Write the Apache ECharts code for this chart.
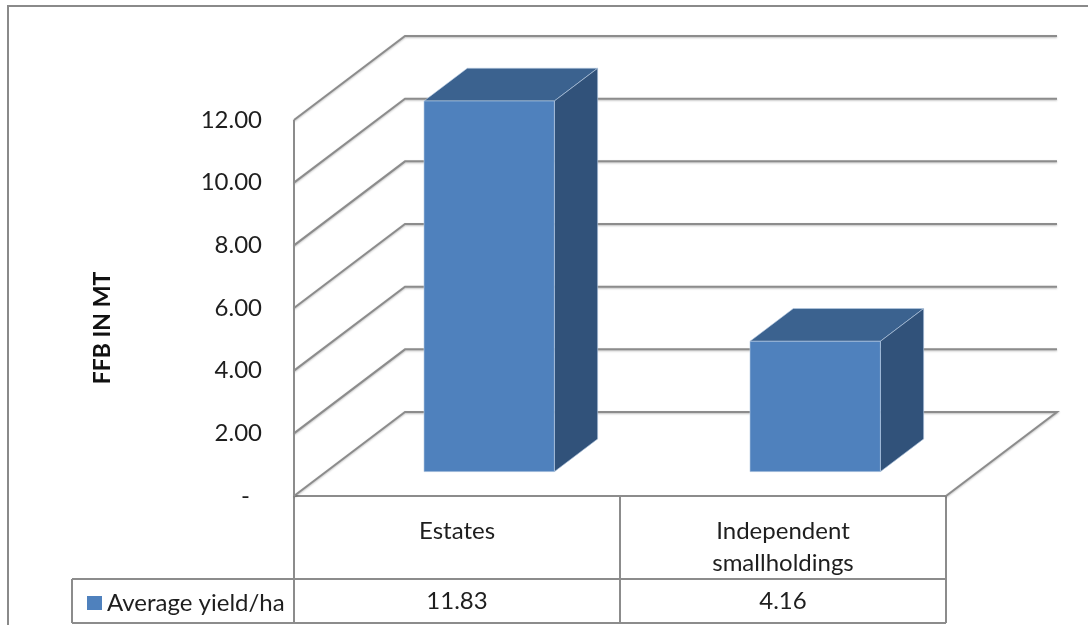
<!DOCTYPE html>
<html>
<head>
<meta charset="utf-8">
<title>Average yield/ha</title>
<script src="https://cdn.jsdelivr.net/npm/echarts@6/dist/echarts.min.js"></script>
<style>
  html, body { margin: 0; padding: 0; background: #fff; }
  #chart { width: 1088px; height: 625px; }
</style>
</head>
<body>
<div id="chart"></div>
<script>
const categories = ['Estates', 'Independent\nsmallholdings']
const yieldValues = [11.83, 4.16]
const yTicks = [0, 2, 4, 6, 8, 10, 12]
const seriesName = 'Average yield/ha'

const FONT = 'Lato, "Open Sans", sans-serif'
const LINE = '#8c8c8c'
const TEXT = '#1e1e1e'
// depth of the 3d walls and floor, px
const DEPTH_X = 111
const DEPTH_Y = -84
// bars sit between these fractions of the depth
const BAR_FRONT = 0.29
const BAR_BACK = 0.68
const BAR_WIDTH = 0.4

const chart = echarts.init(document.getElementById('chart'))

// back wall, left wall and floor lines for every y tick
function wallItem(params, api) {
  const cs = params.coordSys
  const v = api.value(1)
  const y = api.coord([0, v])[1]
  const x0 = cs.x
  const x1 = cs.x + cs.width
  const style = { stroke: LINE, lineWidth: 2, fill: null, shadowBlur: 2, shadowColor: 'rgba(0,0,0,0.25)', shadowOffsetY: 1 }
  const pts = [[x0, y], [x0 + DEPTH_X, y + DEPTH_Y], [x1 + DEPTH_X, y + DEPTH_Y]]
  if (v === 0) pts.push([x1, y])
  const children = [{ type: 'polyline', shape: { points: pts }, style: style }]
  if (v === yTicks[yTicks.length - 1]) {
    children.push({ type: 'line', shape: { x1: x0, y1: y, x2: x0, y2: cs.y + cs.height }, style: { stroke: LINE, lineWidth: 2 } })
  }
  return { type: 'group', children: children }
}

function barItem(params, api) {
  const idx = api.value(0)
  const v = api.value(1)
  const top = api.coord([idx, v])
  const base = api.coord([idx, 0])
  const band = api.size([1, 0])[0]
  const w = band * BAR_WIDTH
  const fx = DEPTH_X * BAR_FRONT
  const fy = DEPTH_Y * BAR_FRONT
  const dx = DEPTH_X * (BAR_BACK - BAR_FRONT)
  const dy = DEPTH_Y * (BAR_BACK - BAR_FRONT)
  const l = top[0] - w / 2 + fx
  const r = l + w
  const t = top[1] + fy
  const b = base[1] + fy
  const edge = { stroke: 'rgba(185,205,229,0.6)', lineWidth: 1 }
  return {
    type: 'group',
    children: [
      { type: 'polygon', shape: { points: [[l, t], [l + dx, t + dy], [r + dx, t + dy], [r, t]] },
        style: Object.assign({ fill: '#3b628f' }, edge) },
      { type: 'polygon', shape: { points: [[r, t], [r + dx, t + dy], [r + dx, b + dy], [r, b]] },
        style: Object.assign({ fill: '#31527a' }, edge) },
      { type: 'rect', shape: { x: l, y: t, width: w, height: b - t },
        style: Object.assign({ fill: '#4f81bd' }, edge) },
      // value cell of the data table
      { type: 'text', x: base[0], y: base[1] + 105,
        style: { text: v.toFixed(2), fill: TEXT, font: '24px ' + FONT, align: 'center', verticalAlign: 'middle' } }
    ]
  }
}

// data table outline
const tableLines = [
  [294, 496, 946, 496],
  [72, 579, 946, 579],
  [72, 623, 946, 623],
  [72, 579, 72, 623],
  [294, 496, 294, 623],
  [620, 496, 620, 623],
  [946, 496, 946, 623]
]

chart.setOption({
  animation: false,
  grid: { left: 294, right: 142, top: 120, bottom: 129 },
  xAxis: {
    type: 'category',
    data: categories,
    axisLine: { show: false },
    axisTick: { show: false },
    axisLabel: { margin: 19, fontSize: 24, fontFamily: FONT, color: TEXT, lineHeight: 32 }
  },
  yAxis: {
    type: 'value',
    min: 0,
    max: 12,
    interval: 2,
    splitLine: { show: false },
    axisLine: { show: false },
    axisTick: { show: false },
    axisLabel: {
      margin: 32, fontSize: 24, fontFamily: FONT, color: TEXT,
      formatter: v => (v === 0 ? '{dash|-}' : v.toFixed(2)),
      rich: { dash: { fontSize: 24, fontFamily: FONT, color: TEXT, padding: [0, 12, 0, 0] } }
    }
  },
  legend: {
    data: [{ name: seriesName, icon: 'rect' }],
    left: 82,
    top: 586,
    itemWidth: 15,
    itemHeight: 14,
    itemGap: 8,
    textStyle: { fontSize: 24, fontFamily: FONT, color: TEXT }
  },
  graphic: [
    { type: 'rect', shape: { x: 8, y: 6, width: 1200, height: 700 }, style: { fill: null, stroke: '#8a8a8a', lineWidth: 2 } },
    { type: 'text', x: 103, y: 328, rotation: Math.PI / 2,
      style: { text: 'FFB IN MT', font: 'bold 23px ' + FONT, fill: '#111', align: 'center', verticalAlign: 'middle' } }
  ].concat(tableLines.map(([x1, y1, x2, y2]) => ({
    type: 'line', shape: { x1, y1, x2, y2 }, style: { stroke: LINE, lineWidth: 2 }
  }))),
  series: [
    {
      type: 'custom',
      name: 'walls',
      z: 1,
      clip: false,
      silent: true,
      renderItem: wallItem,
      data: yTicks.map(v => [0, v])
    },
    {
      type: 'custom',
      name: seriesName,
      z: 2,
      clip: false,
      itemStyle: { color: '#4f81bd' },
      renderItem: barItem,
      data: yieldValues.map((v, i) => [i, v])
    }
  ]
})
</script>
</body>
</html>
